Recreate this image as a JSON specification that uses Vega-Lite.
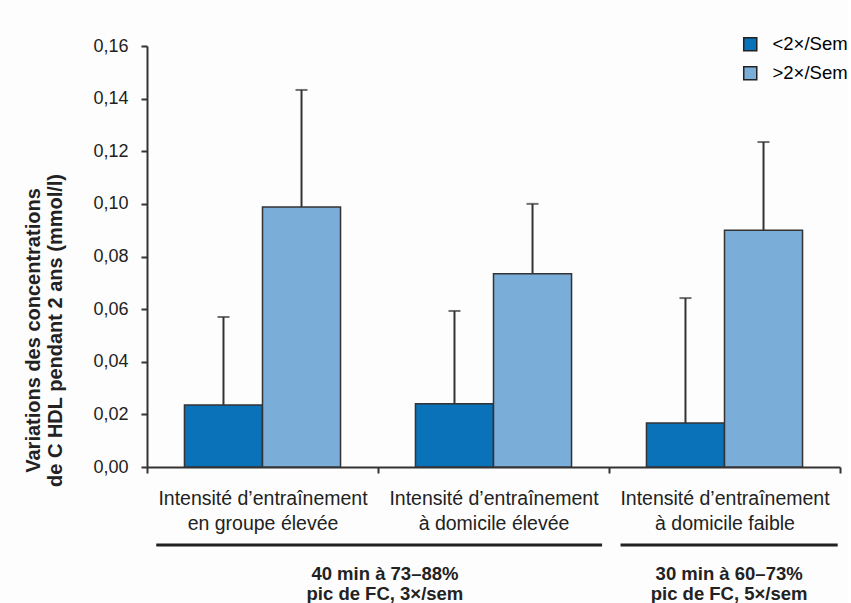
{
  "$schema": "https://vega.github.io/schema/vega-lite/v6.json",
  "background": "#fdfdfd",
  "padding": {"left": 23, "top": 35, "right": 0, "bottom": 0},
  "config": {
    "font": "Liberation Sans",
    "view": {"stroke": null},
    "axis": {"labelFont": "Liberation Sans", "titleFont": "Liberation Sans", "domainColor": "#333", "tickColor": "#333", "labelColor": "#222", "titleColor": "#222"}
  },
  "spacing": 4,
  "vconcat": [
    {
      "width": 693,
      "height": 421,
      "data": {"values": [
        {"group": "Intensité d’entraînement|en groupe élevée", "series": "<2×/Sem", "value": 0.0236, "upper": 0.057},
        {"group": "Intensité d’entraînement|en groupe élevée", "series": ">2×/Sem", "value": 0.0988, "upper": 0.1433},
        {"group": "Intensité d’entraînement|à domicile élevée", "series": "<2×/Sem", "value": 0.024, "upper": 0.0593},
        {"group": "Intensité d’entraînement|à domicile élevée", "series": ">2×/Sem", "value": 0.0734, "upper": 0.1},
        {"group": "Intensité d’entraînement|à domicile faible", "series": "<2×/Sem", "value": 0.0167, "upper": 0.0642},
        {"group": "Intensité d’entraînement|à domicile faible", "series": ">2×/Sem", "value": 0.09, "upper": 0.1235}
      ]},
      "encoding": {
        "x": {
          "field": "group", "type": "nominal", "sort": null,
          "scale": {"paddingInner": 0, "paddingOuter": 0},
          "axis": {"title": null, "labelAngle": 0, "labelFontSize": 19.5, "labelLineHeight": 25, "labelPadding": 16, "labelLimit": 0, "labelExpr": "split(datum.label, '|')", "tickBand": "extent", "tickSize": 6, "tickWidth": 2, "domainWidth": 2}
        },
        "xOffset": {"field": "series", "type": "nominal", "sort": null, "scale": {"paddingInner": 0, "paddingOuter": 0.48}}
      },
      "layer": [
        {
          "mark": {"type": "rule", "color": "#333", "strokeWidth": 2},
          "encoding": {"y": {"field": "value", "type": "quantitative"}, "y2": {"field": "upper"}}
        },
        {
          "mark": {"type": "tick", "color": "#333", "thickness": 2, "size": 12},
          "encoding": {"y": {"field": "upper", "type": "quantitative"}}
        },
        {
          "mark": {"type": "bar", "stroke": "#333", "strokeWidth": 1.5, "width": {"band": 1}},
          "encoding": {
            "y": {
              "field": "value", "type": "quantitative",
              "scale": {"domain": [0, 0.16], "nice": false},
              "axis": {"title": ["Variations des concentrations", "de C HDL pendant 2 ans (mmol/l)"], "titleFontSize": 20, "titleFontWeight": "bold", "titlePadding": 27, "titleLineHeight": 22, "titleY": 284, "values": [0, 0.02, 0.04, 0.06, 0.08, 0.1, 0.12, 0.14, 0.16], "labelExpr": "replace(format(datum.value, '.2f'), '.', ',')", "labelFontSize": 18, "labelPadding": 13, "grid": false, "tickSize": 6, "tickWidth": 2, "domainWidth": 2}
            },
            "color": {
              "field": "series", "type": "nominal", "sort": null,
              "scale": {"domain": ["<2×/Sem", ">2×/Sem"], "range": ["#0a72b9", "#7badd9"]},
              "legend": {"title": null, "orient": "none", "legendX": 594, "legendY": -11, "symbolType": "square", "symbolSize": 170, "symbolStrokeColor": "#222", "symbolStrokeWidth": 1.5, "labelFontSize": 18.5, "rowPadding": 9, "labelOffset": 13}
            }
          }
        }
      ]
    },
    {
      "width": 693,
      "height": 66,
      "data": {"values": [
        {"start": 0.04, "end": 1.97, "mid": 1.03, "label": "40 min à 73–88%\npic de FC, 3×/sem"},
        {"start": 2.05, "end": 2.99, "mid": 2.52, "label": "30 min à 60–73%\npic de FC, 5×/sem"}
      ]},
      "layer": [
        {
          "mark": {"type": "rule", "color": "#222", "strokeWidth": 3},
          "encoding": {
            "x": {"field": "start", "type": "quantitative", "scale": {"domain": [0, 3], "nice": false}, "axis": null},
            "x2": {"field": "end"},
            "y": {"datum": 8, "type": "quantitative", "scale": {"domain": [0, 66], "reverse": true, "nice": false}, "axis": null}
          }
        },
        {
          "mark": {"type": "text", "fontSize": 18.5, "fontWeight": "bold", "lineBreak": "\n", "lineHeight": 20, "color": "#222", "baseline": "middle"},
          "encoding": {
            "x": {"field": "mid", "type": "quantitative"},
            "y": {"datum": 37, "type": "quantitative"},
            "text": {"field": "label"}
          }
        }
      ]
    }
  ]
}
